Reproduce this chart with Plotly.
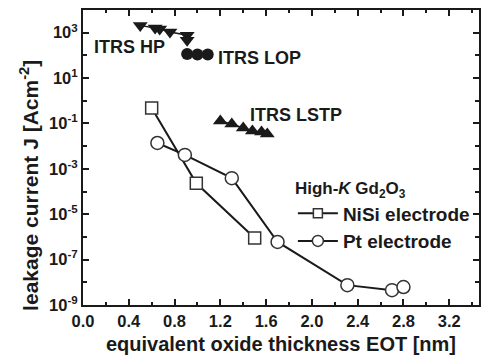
import plotly.graph_objects as go

# ---- data ----
hp_eot = [0.50, 0.63, 0.67, 0.76, 0.91, 0.91]
hp_j = [2100, 1600, 1450, 1070, 780, 470]

lop_eot = [0.91, 1.00, 1.09]
lop_j = [115, 110, 110]

lstp_eot = [1.20, 1.30, 1.40, 1.48, 1.56, 1.61]
lstp_j = [0.13, 0.095, 0.063, 0.047, 0.042, 0.034]

nisi_eot = [0.60, 0.99, 1.50]
nisi_j = [0.48, 2.3e-4, 8.9e-7]

pt_eot = [0.65, 0.89, 1.30, 1.70, 2.31, 2.70, 2.80]
pt_j = [0.0138, 0.0041, 3.9e-4, 6e-7, 7.5e-9, 4.5e-9, 6.2e-9]

x_ticks = [0.0, 0.4, 0.8, 1.2, 1.6, 2.0, 2.4, 2.8, 3.2]
y_tick_exps = [-9, -7, -5, -3, -1, 1, 3]

FONT = "Liberation Sans"
INK = "#1a1a1a"

fig = go.Figure()

fig.add_trace(go.Scatter(x=hp_eot, y=hp_j, mode="lines+markers",
                         line=dict(color=INK, width=1.5),
                         marker=dict(symbol="triangle-down", size=13, color=INK),
                         showlegend=False))
fig.add_trace(go.Scatter(x=lop_eot, y=lop_j, mode="lines+markers",
                         line=dict(color=INK, width=1.5),
                         marker=dict(symbol="circle", size=12, color=INK),
                         showlegend=False))
fig.add_trace(go.Scatter(x=lstp_eot, y=lstp_j, mode="lines+markers",
                         line=dict(color=INK, width=1.5),
                         marker=dict(symbol="triangle-up", size=13, color=INK),
                         showlegend=False))
fig.add_trace(go.Scatter(x=nisi_eot, y=nisi_j, mode="lines+markers",
                         line=dict(color=INK, width=2),
                         marker=dict(symbol="square", size=12, color="white",
                                     line=dict(color="#333", width=1.5)),
                         showlegend=False))
fig.add_trace(go.Scatter(x=pt_eot, y=pt_j, mode="lines+markers",
                         line=dict(color=INK, width=2),
                         marker=dict(symbol="circle", size=13, color="white",
                                     line=dict(color="#333", width=1.5)),
                         showlegend=False))

# legend-only entries with smaller symbols
fig.add_trace(go.Scatter(x=[None], y=[None], mode="lines+markers", name="NiSi electrode",
                         line=dict(color=INK, width=2),
                         marker=dict(symbol="square", size=9, color="white",
                                     line=dict(color="#333", width=1.5))))
fig.add_trace(go.Scatter(x=[None], y=[None], mode="lines+markers", name="Pt electrode",
                         line=dict(color=INK, width=2),
                         marker=dict(symbol="circle", size=11, color="white",
                                     line=dict(color="#333", width=1.5))))

axis_common = dict(showline=True, linecolor=INK, linewidth=2, mirror="ticks",
                   ticks="inside", tickcolor=INK, tickwidth=2, ticklen=6,
                   showgrid=False, zeroline=False,
                   tickfont=dict(family=FONT, size=16.5, color=INK, weight="bold"))

fig.update_xaxes(range=[0, 3.46], tickvals=x_ticks,
                 ticktext=[f"{v:.1f}" for v in x_ticks],
                 minor=dict(tickvals=[0.2, 0.6, 1.0, 1.4, 1.8, 2.2, 2.6, 3.0, 3.4],
                            ticks="inside", ticklen=3, tickwidth=2, tickcolor=INK),
                 title=dict(text="equivalent oxide thickness EOT [nm]", standoff=8,
                            font=dict(family=FONT, size=20, color=INK, weight="bold")),
                 **axis_common)
fig.update_yaxes(type="log", range=[-9, 4],
                 tickvals=[10.0 ** e for e in y_tick_exps],
                 ticktext=[f"10<sup>{e}</sup>" for e in y_tick_exps],
                 minor=dict(tickvals=[10.0 ** e for e in range(-8, 5, 2)],
                            ticks="inside", ticklen=4, tickwidth=2, tickcolor=INK),
                 **axis_common)

# y-axis title (placed lower than centre, as in the reference)
fig.add_annotation(xref="paper", yref="paper", x=-0.138, y=0.405,
                   xanchor="center", yanchor="middle",
                   text="leakage current J [Acm<sup>-2</sup>]", textangle=-90,
                   showarrow=False,
                   font=dict(family=FONT, size=21, color=INK, weight="bold"))

ann_font = dict(family=FONT, size=18, color=INK, weight="bold")
fig.add_annotation(x=0.41, y=2.37, text="ITRS HP", showarrow=False, font=ann_font)
fig.add_annotation(x=1.54, y=1.88, text="ITRS LOP", showarrow=False, font=ann_font)
fig.add_annotation(x=1.86, y=-0.63, text="ITRS LSTP", showarrow=False, font=ann_font)

fig.update_layout(
    width=482, height=356,
    margin=dict(l=83, r=1, t=10, b=51),
    paper_bgcolor="white", plot_bgcolor="white",
    legend=dict(x=0.53, y=0.45, xanchor="left", yanchor="top",
                bgcolor="rgba(0,0,0,0)", borderwidth=0,
                font=dict(family=FONT, size=19, color=INK, weight="bold"),
                title=dict(text="High-<i>K</i> Gd<sub>2</sub>O<sub>3</sub>",
                           font=dict(family=FONT, size=17, color=INK, weight="bold")),
                tracegroupgap=0, itemwidth=40),
)

fig.write_html("out.html")
